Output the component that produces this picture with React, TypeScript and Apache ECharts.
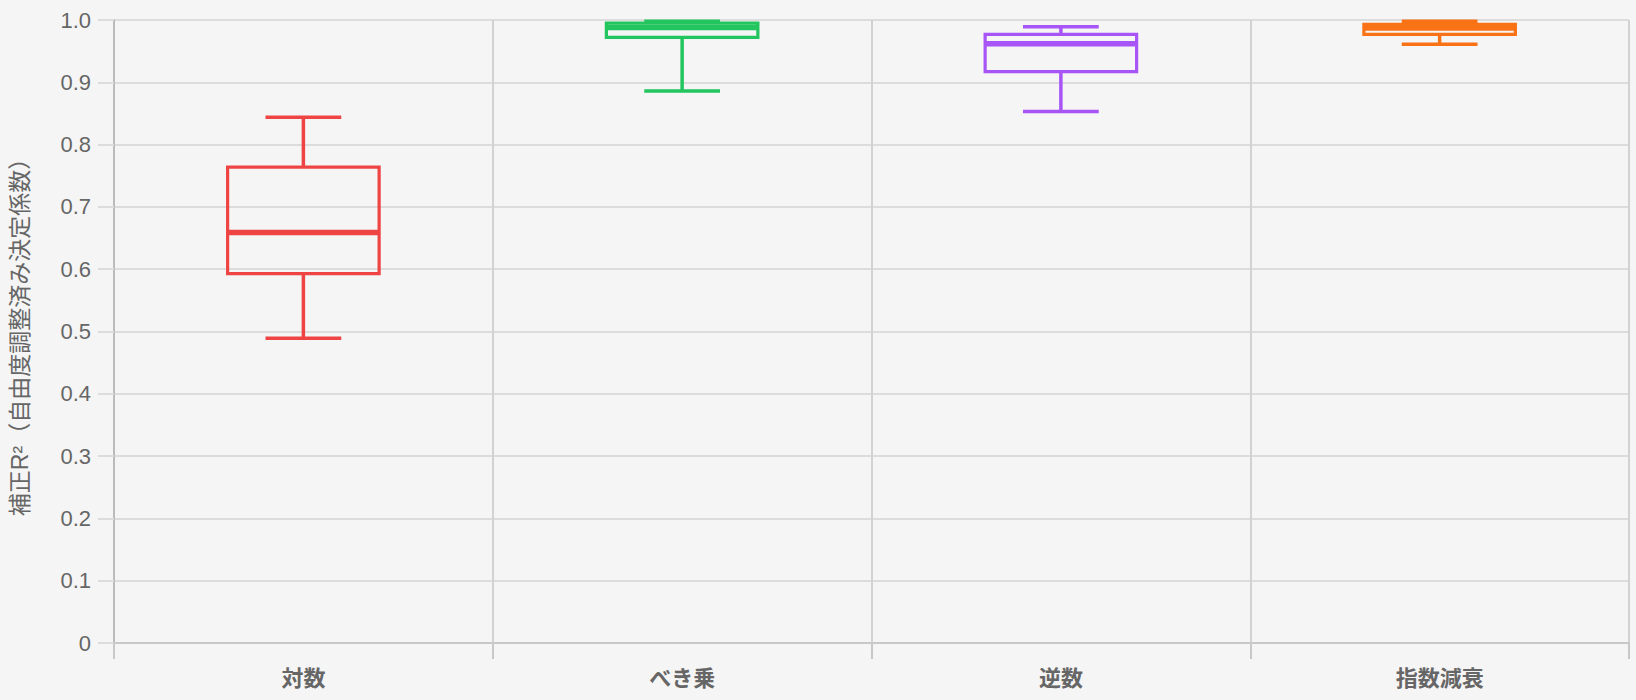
import React, { useEffect, useRef } from "react";
import * as echarts from "echarts";

const categories = ["対数", "べき乗", "逆数", "指数減衰"];
// [low whisker, Q1, median, Q3, high whisker]
const lowValues = [0.489, 0.886, 0.853, 0.961];
const q1Values = [0.593, 0.972, 0.917, 0.977];
const medianValues = [0.659, 0.988, 0.962, 0.987];
const q3Values = [0.764, 0.995, 0.977, 0.993];
const highValues = [0.844, 0.998, 0.989, 0.998];
const colors = ["#ef4444", "#22c55e", "#a855f7", "#f97316"];
const yTicks = { min: 0, max: 1, interval: 0.1 };

const FONT = "'Liberation Sans', 'Noto Sans CJK JP', sans-serif";

export default function App() {
  const ref = useRef<HTMLDivElement>(null);
  useEffect(() => {
    document.body.style.margin = "0";
    const chart = echarts.init(ref.current!, null, { renderer: "svg" });
    const data = categories.map((_, i) => [
      i,
      lowValues[i],
      q1Values[i],
      medianValues[i],
      q3Values[i],
      highValues[i],
    ]);
    chart.setOption({
      animation: false,
      backgroundColor: "#f5f5f5",
      textStyle: { fontFamily: FONT },
      grid: { left: 105, right: 7, top: 20, bottom: 57 },
      xAxis: {
        type: "category",
        data: categories,
        boundaryGap: true,
        axisLine: { lineStyle: { color: "#c8c8c8", width: 2 } },
        axisTick: { show: true, length: 16, lineStyle: { color: "#c8c8c8", width: 2 } },
        splitLine: { show: true, lineStyle: { color: "#d2d2d2", width: 2 } },
        axisLabel: {
          color: "#666",
          fontSize: 22,
          fontWeight: "bold",
          margin: 24,
          fontFamily: FONT,
        },
      },
      yAxis: {
        type: "value",
        min: yTicks.min,
        max: yTicks.max,
        interval: yTicks.interval,
        name: "補正R²（自由度調整済み決定係数）",
        nameLocation: "middle",
        nameGap: 83,
        nameTextStyle: { color: "#666", fontSize: 23, fontFamily: FONT },
        axisLine: { show: true, lineStyle: { color: "#bbbbbb", width: 2 } },
        axisTick: { show: true, length: 16, lineStyle: { color: "#dcdcdc", width: 2 } },
        splitLine: { show: true, lineStyle: { color: "#dcdcdc", width: 2 } },
        axisLabel: {
          color: "#666",
          fontSize: 22,
          margin: 23,
          fontFamily: FONT,
          formatter: (v: number) => (v === 0 ? "0" : v.toFixed(1)),
        },
      },
      series: [
        {
          type: "custom",
          data,
          encode: { x: 0, y: [1, 2, 3, 4, 5] },
          renderItem: (params: any, api: any) => {
            const idx = api.value(0);
            const color = colors[params.dataIndex];
            const band = api.size([1, 0])[0];
            const boxW = band * 0.4;
            const capW = band * 0.2;
            const pLow = api.coord([idx, api.value(1)]);
            const pQ1 = api.coord([idx, api.value(2)]);
            const pMed = api.coord([idx, api.value(3)]);
            const pQ3 = api.coord([idx, api.value(4)]);
            const pHigh = api.coord([idx, api.value(5)]);
            const cx = pMed[0];
            const lineStyle = { stroke: color, lineWidth: 3.5, fill: "none" };
            return {
              type: "group",
              children: [
                {
                  type: "line",
                  shape: { x1: cx, y1: pHigh[1], x2: cx, y2: pQ3[1] },
                  style: lineStyle,
                },
                {
                  type: "line",
                  shape: { x1: cx, y1: pQ1[1], x2: cx, y2: pLow[1] },
                  style: lineStyle,
                },
                {
                  type: "line",
                  shape: { x1: cx - capW / 2, y1: pHigh[1], x2: cx + capW / 2, y2: pHigh[1] },
                  style: lineStyle,
                },
                {
                  type: "line",
                  shape: { x1: cx - capW / 2, y1: pLow[1], x2: cx + capW / 2, y2: pLow[1] },
                  style: lineStyle,
                },
                {
                  type: "rect",
                  shape: {
                    x: cx - boxW / 2,
                    y: pQ3[1],
                    width: boxW,
                    height: pQ1[1] - pQ3[1],
                  },
                  style: { stroke: color, lineWidth: 3.2, fill: "none" },
                },
                {
                  type: "line",
                  shape: { x1: cx - boxW / 2, y1: pMed[1], x2: cx + boxW / 2, y2: pMed[1] },
                  style: { stroke: color, lineWidth: 5.5 },
                },
              ],
            };
          },
        },
      ],
    });
    return () => chart.dispose();
  }, []);
  return <div ref={ref} style={{ width: 1636, height: 700 }} />;
}
